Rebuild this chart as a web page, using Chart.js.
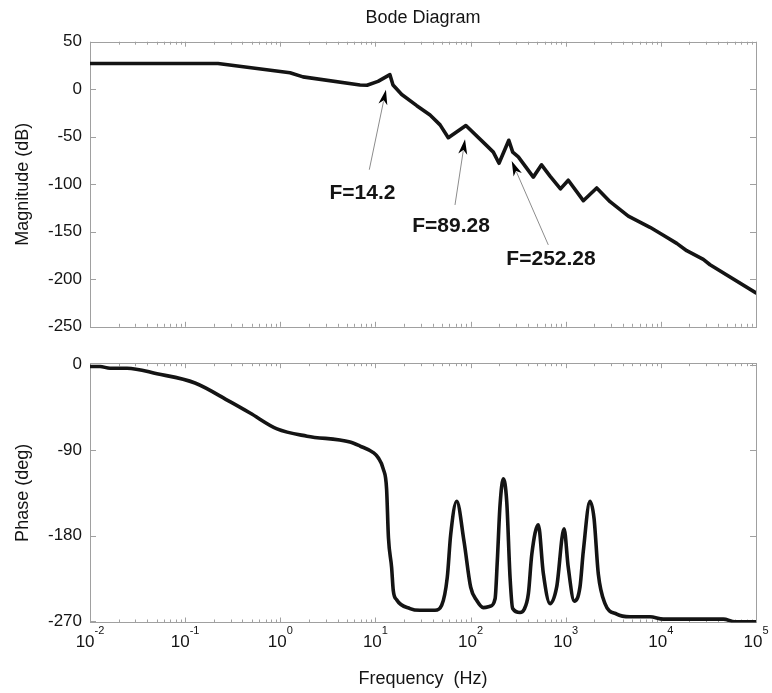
<!DOCTYPE html>
<html>
<head>
<meta charset="utf-8">
<title>Bode Diagram</title>
<script src="https://cdn.jsdelivr.net/npm/chart.js@4.4.0/dist/chart.umd.min.js"></script>
<style>
  html, body { margin: 0; padding: 0; background: #fff; }
  #wrap { position: relative; width: 772px; height: 693px; }
  #wrap canvas { position: absolute; left: 0; }
  #mag { top: 0; }
  #phase { top: 345px; }
</style>
</head>
<body>
<div id="wrap">
  <canvas id="mag" width="772" height="345"></canvas>
  <canvas id="phase" width="772" height="348"></canvas>
</div>
<script>
// Frequency response: magnitude (dB) and phase (deg) against frequency (Hz)
const magFreq = [0.01, 0.2215, 1.265, 1.733, 6.886, 8.155, 10.65, 14.2, 15.3, 18.9, 27.2, 37.5, 47.8, 58.3,
  89.28, 147.8, 173.4, 199, 252.28, 277.3, 317.6, 456.4, 557, 684, 881, 1064, 1531, 2117, 2923, 4550,
  7690, 10620, 14690, 18700, 27940, 32880, 100000];
const magDb = [27, 27, 17.4, 13.0, 4.5, 4.2, 8.3, 15.3, 4.5, -5.6, -17.3, -27.1, -37.5, -51.0,
  -38.2, -59.4, -66.2, -77.9, -53.7, -66.2, -71.2, -92.5, -79.6, -91.5, -104.9, -95.8, -117.3, -103.9, -118.3, -133.5,
  -145.3, -153.7, -162.2, -169.9, -179.0, -184.7, -214.3];

const phaseFreq = [0.01, 0.01274, 0.01622, 0.02449, 0.0506, 0.127, 0.296, 0.481, 0.924, 1.91, 5.40, 6.89,
  9.50, 10.65, 12.1, 13.1, 13.7, 14.8, 15.4, 16.7, 23.1, 29.4, 42.3, 49.7, 56.9, 61.8, 71.5, 85.3,
  100.3, 116, 136, 160, 181, 191, 204, 221, 240, 260, 277, 331, 365, 405, 440, 515, 582, 684, 804,
  960, 1064, 1231, 1413, 1531, 1800, 1984, 2201, 2588, 3436, 4742, 7690, 10620, 45300, 60100, 100000];
const phaseDeg = [-2, -2, -3.8, -3.8, -9.6, -19.3, -39, -51, -67.7, -75.3, -81.5, -85.7,
  -92.6, -97.8, -110, -130.7, -182, -213.7, -237.8, -247.5, -256.8, -258.6, -258.6, -253.4, -224, -179, -143.8, -186,
  -234.4, -248.2, -255.8, -254.4, -246.5, -206.7, -148, -120.3, -144.5, -224, -256.8, -261, -257.9, -241.3, -199.8, -168.7, -220, -251.6, -234,
  -172.8, -213.7, -249, -234, -196.4, -143.8, -161.8, -220.5, -251.6, -262.7, -265.5, -265.5, -267.9, -267.9, -270.7, -270.7];

// Axis ticks
const freqDecades = [-2, -1, 0, 1, 2, 3, 4, 5];
const magTicks = [50, 0, -50, -100, -150, -200, -250];
const phaseTicks = [0, -90, -180, -270];

// Marked resonance frequencies
const peakFreq = [14.2, 89.28, 252.28];

const FONT = '"Liberation Sans", Arial, Helvetica, sans-serif';
const INK = '#141414';
const FRAME = '#a0a0a0';

// Callout placement in data units (Hz, dB)
const callouts = [
  { tip: [12.9, -0.5],  tail: [8.62, -84.7],  label: [7.31, -108.9] },
  { tip: [87.4, -52.7], tail: [68.6, -121.8], label: [62.3, -144.3] },
  { tip: [270.6, -75.6], tail: [656, -163.8], label: [701, -178.7] }
];

function points(xs, ys) { return xs.map((x, i) => ({ x, y: ys[i] })); }

// Box and inward tick marks (decades + 2..9 minor ticks on x, value ticks on y)
const framePlugin = {
  id: 'frame',
  beforeDatasetsDraw(chart) {
    const { ctx, chartArea: a, scales: { x, y } } = chart;
    ctx.save();
    ctx.strokeStyle = FRAME;
    ctx.lineWidth = 1;
    ctx.beginPath();
    freqDecades.forEach(d => {
      for (let k = 1; k <= 9; k++) {
        const v = k * Math.pow(10, d);
        if (v > x.max * 1.0001) break;
        const px = Math.round(x.getPixelForValue(v)) + 0.5;
        const len = k === 1 ? 5 : 3;
        ctx.moveTo(px, a.top); ctx.lineTo(px, a.top + len);
        ctx.moveTo(px, a.bottom); ctx.lineTo(px, a.bottom - len);
      }
    });
    y.ticks.forEach(t => {
      const py = Math.round(y.getPixelForValue(t.value)) + 0.5;
      ctx.moveTo(a.left, py); ctx.lineTo(a.left + 6, py);
      ctx.moveTo(a.right, py); ctx.lineTo(a.right - 6, py);
    });
    ctx.stroke();
    ctx.strokeRect(Math.round(a.left) + 0.5, Math.round(a.top) + 0.5,
      Math.round(a.right - a.left), Math.round(a.bottom - a.top));
    ctx.restore();
  }
};

// Power-of-ten labels under the frequency axis
const decadeLabels = {
  id: 'decadeLabels',
  afterDraw(chart) {
    const { ctx, chartArea: a, scales: { x } } = chart;
    ctx.save();
    ctx.fillStyle = INK;
    ctx.textBaseline = 'alphabetic';
    ctx.textAlign = 'left';
    const base = a.bottom + 24.5;
    freqDecades.forEach(d => {
      const px = x.getPixelForValue(Math.pow(10, d));
      ctx.font = '17px ' + FONT;
      const w1 = ctx.measureText('10').width;
      ctx.font = '11px ' + FONT;
      const exp = d < 0 ? '-' + Math.abs(d) : String(d);
      const w2 = ctx.measureText(exp).width;
      const x0 = px - (w1 + w2) / 2;
      ctx.font = '17px ' + FONT;
      ctx.fillText('10', x0, base);
      ctx.font = '11px ' + FONT;
      ctx.fillText(exp, x0 + w1, base - 13);
    });
    ctx.restore();
  }
};

// Arrows pointing at the resonance peaks, with their frequency labels
const calloutPlugin = {
  id: 'callouts',
  afterDatasetsDraw(chart) {
    const { ctx, scales: { x, y } } = chart;
    ctx.save();
    callouts.forEach((c, i) => {
      const tx = x.getPixelForValue(c.tip[0]), ty = y.getPixelForValue(c.tip[1]);
      const sx = x.getPixelForValue(c.tail[0]), sy = y.getPixelForValue(c.tail[1]);
      const ang = Math.atan2(ty - sy, tx - sx);
      const L = 15, W = 4.5;
      const bx = tx - L * Math.cos(ang), by = ty - L * Math.sin(ang);
      ctx.strokeStyle = '#8c8c8c';
      ctx.lineWidth = 1;
      ctx.beginPath();
      ctx.moveTo(sx, sy);
      ctx.lineTo(bx + 3 * Math.cos(ang), by + 3 * Math.sin(ang));
      ctx.stroke();
      const nx = -Math.sin(ang), ny = Math.cos(ang);
      const mx = tx - 0.72 * L * Math.cos(ang), my = ty - 0.72 * L * Math.sin(ang);
      ctx.fillStyle = '#000';
      ctx.beginPath();
      ctx.moveTo(tx, ty);
      ctx.lineTo(bx + W * nx, by + W * ny);
      ctx.lineTo(mx, my);
      ctx.lineTo(bx - W * nx, by - W * ny);
      ctx.closePath();
      ctx.fill();

      ctx.fillStyle = INK;
      ctx.font = 'bold 21px ' + FONT;
      ctx.textAlign = 'center';
      ctx.textBaseline = 'middle';
      ctx.fillText('F=' + peakFreq[i], x.getPixelForValue(c.label[0]), y.getPixelForValue(c.label[1]));
    });
    ctx.restore();
  }
};

const lineStyle = {
  borderColor: INK,
  borderWidth: 3.6,
  pointRadius: 0,
  borderJoinStyle: 'round',
  borderCapStyle: 'round',
  fill: false
};

function yAxis(min, max, ticks, label) {
  return {
    type: 'linear',
    min, max,
    afterBuildTicks(s) { s.ticks = ticks.map(v => ({ value: v })); },
    ticks: { color: INK, font: { family: FONT, size: 17 }, padding: 8 },
    grid: { display: false, drawTicks: false },
    border: { display: false },
    title: { display: true, text: label, color: INK, font: { family: FONT, size: 18 }, padding: { top: 12, bottom: 0 } },
    afterFit(s) { s.width = 90; }
  };
}

const freqAxisBase = {
  type: 'logarithmic',
  min: 0.01,
  max: 100000,
  grid: { display: false, drawTicks: false },
  border: { display: false }
};

new Chart(document.getElementById('mag'), {
  type: 'line',
  data: { datasets: [Object.assign({ data: points(magFreq, magDb), tension: 0 }, lineStyle)] },
  options: {
    responsive: false,
    animation: false,
    layout: { padding: { left: 0, right: 16, top: 0, bottom: 6 } },
    plugins: {
      legend: { display: false },
      tooltip: { enabled: false },
      title: {
        display: true, text: 'Bode Diagram', fullSize: false, color: INK,
        font: { family: FONT, size: 18, weight: 'normal' },
        padding: { top: 7.2, bottom: 12.9 }
      }
    },
    scales: {
      x: Object.assign({ display: false }, freqAxisBase),
      y: yAxis(-250, 50, magTicks, 'Magnitude (dB)')
    }
  },
  plugins: [framePlugin, calloutPlugin]
});

new Chart(document.getElementById('phase'), {
  type: 'line',
  data: { datasets: [Object.assign({ data: points(phaseFreq, phaseDeg), cubicInterpolationMode: 'monotone' }, lineStyle)] },
  options: {
    responsive: false,
    animation: false,
    layout: { padding: { left: 0, right: 16, top: 14.3, bottom: 0 } },
    plugins: { legend: { display: false }, tooltip: { enabled: false } },
    scales: {
      x: Object.assign({
        display: true,
        ticks: { display: false },
        title: { display: true, text: 'Frequency  (Hz)', color: INK, font: { family: FONT, size: 18 }, padding: { top: 0, bottom: 3.2 } },
        afterFit(s) { s.height = 70.5; }
      }, freqAxisBase),
      y: yAxis(-271.5, 1.5, phaseTicks, 'Phase (deg)')
    }
  },
  plugins: [framePlugin, decadeLabels]
});
</script>
</body>
</html>
